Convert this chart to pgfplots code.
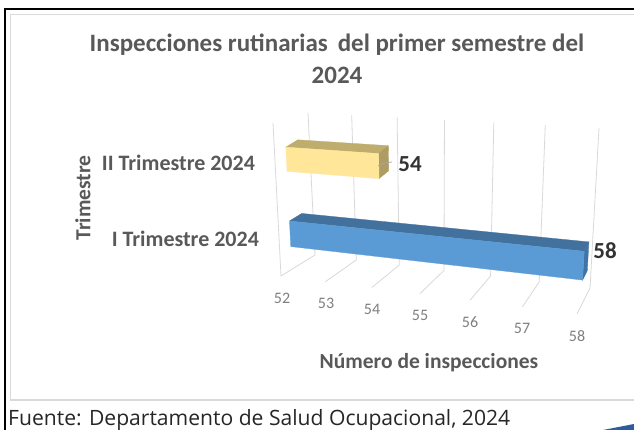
\documentclass[border=0pt]{standalone}
\usepackage{pgfplots}
\usepackage{pgfplotstable}
\pgfplotsset{compat=1.18}
\usepackage{fontspec}
\setmainfont{Carlito}
\newfontfamily\srcfont{Open Sans}
\definecolor{txt}{HTML}{595959}
\definecolor{gridc}{HTML}{D9D9D9}
\definecolor{tickc}{HTML}{7F7F7F}
\definecolor{yfront}{HTML}{FFE699}
\definecolor{ytop}{HTML}{BFAD6E}
\definecolor{yside}{HTML}{AE9C62}
\definecolor{bfront}{HTML}{5B9BD5}
\definecolor{btop}{HTML}{41719C}
\definecolor{bside}{HTML}{3F74A6}
\definecolor{wedge}{HTML}{2F5C9E}
\pgfmathdeclarefunction{wq}{1}{\pgfmathparse{0.883*((#1-52)/6)/(1-0.117*((#1-52)/6))}}
\pgfmathdeclarefunction{px}{3}{\pgfmathparse{315+275*wq(#1)+#2*(-34+21*wq(#1))+#3*(-7+16*wq(#1))}}
\pgfmathdeclarefunction{py}{3}{\pgfmathparse{255+33*wq(#1)+#2*(21+5*wq(#1))+#3*(-142-18*wq(#1))}}
\pgfplotstableread{
v d h
52 0.68 0.86
54 0.68 0.86
54 0.68 0.69
52 0.68 0.69
}\faceA
\pgfplotstableread{
v d h
52 0.68 0.86
52 0.33 0.86
54 0.33 0.86
54 0.68 0.86
}\topA
\pgfplotstableread{
v d h
54 0.68 0.86
54 0.33 0.86
54 0.33 0.69
54 0.68 0.69
}\sideA
\pgfplotstableread{
v d h
52 0.68 0.34
58 0.68 0.34
58 0.68 0.16
52 0.68 0.16
}\faceB
\pgfplotstableread{
v d h
52 0.68 0.34
52 0.32 0.34
58 0.32 0.34
58 0.68 0.34
}\topB
\pgfplotstableread{
v d h
58 0.68 0.34
58 0.32 0.34
58 0.32 0.16
58 0.68 0.16
}\sideB
\pgfplotsset{/pgfplots/table/proj/.style={/pgfplots/table/x expr={px(\thisrow{v},\thisrow{d},\thisrow{h})},/pgfplots/table/y expr={py(\thisrow{v},\thisrow{d},\thisrow{h})}}}
\newcommand\gridl[1]{\addplot[gridc,line width=0.8pt] table[proj,row sep=\\]{v d h\\ #1 1 0\\ #1 0 0\\ #1 0 1\\};}
\newcommand\face[2]{\addplot[fill=#1,draw=#1,line width=0.3pt] table[proj]{#2} --cycle;}
\begin{document}
\begin{tikzpicture}
\begin{axis}[
  scale only axis,width=634pt,height=430pt,
  xmin=0,xmax=634,ymin=0,ymax=430,y dir=reverse,
  axis lines=none,clip=true]
\addplot[draw=none,fill=white] coordinates {(0,0)(634,0)(634,430)(0,430)} --cycle;
\addplot[draw=black,line width=2pt] coordinates {(5,440)(5,9)(640,9)};
\addplot[draw=gridc,line width=1.4pt] coordinates {(640,14.5)(10.5,14.5)(10.5,400)(640,400)};
\addplot[draw=none,fill=wedge] coordinates {(603,430)(634,424)(634,430)} --cycle;
\gridl{52}\gridl{53}\gridl{54}\gridl{55}\gridl{56}\gridl{57}\gridl{58}
\addplot[gridc,line width=0.8pt] coordinates {(281,276)(273,123)};
\face{ytop}{\topA}
\face{yside}{\sideA}
\face{yfront}{\faceA}
\face{btop}{\topB}
\face{bside}{\sideB}
\face{bfront}{\faceB}
\addplot[gray!70,line width=0.8pt] coordinates {(378,166)(384,163)(392,162)};
\node[font=\bfseries\fontsize{25}{25}\selectfont,text=txt] at (axis cs:337,45) {Inspecciones rutinarias\, del primer semestre del};
\node[font=\bfseries\fontsize{25}{25}\selectfont,text=txt] at (axis cs:337,75) {2024};
\node[font=\bfseries\fontsize{21.5}{21.5}\selectfont,text=txt,rotate=90] at (axis cs:83,198) {Trimestre};
\node[font=\bfseries\fontsize{22}{22}\selectfont,text=txt,anchor=east] at (axis cs:258.5,163) {II Trimestre 2024};
\node[font=\bfseries\fontsize{22}{22}\selectfont,text=txt,anchor=east] at (axis cs:262.5,239) {I Trimestre 2024};
\node[font=\bfseries\fontsize{21.5}{21.5}\selectfont,text=txt] at (axis cs:429,363) {Número de inspecciones};
\node[font=\bfseries\fontsize{23}{23}\selectfont,text=black!80] at (axis cs:410,164) {54};
\node[font=\bfseries\fontsize{23}{23}\selectfont,text=black!80] at (axis cs:605,251) {58};
\foreach \lab/\a/\b in {52/282/298,53/326/303,54/372/309,55/420/315,56/470/322,57/522/328,58/577/336}{
  \edef\tmp{\noexpand\node[font=\noexpand\fontsize{16}{16}\noexpand\selectfont,text=tickc] at (axis cs:\a,\b) {\lab};}\tmp
}
\node[font=\srcfont\fontsize{21.1}{21.1}\selectfont,text=black!85,anchor=base west,inner sep=0pt] at (axis cs:8,425.5) {Fuente: Departamento de Salud Ocupacional, 2024};
\end{axis}
\end{tikzpicture}
\end{document}
